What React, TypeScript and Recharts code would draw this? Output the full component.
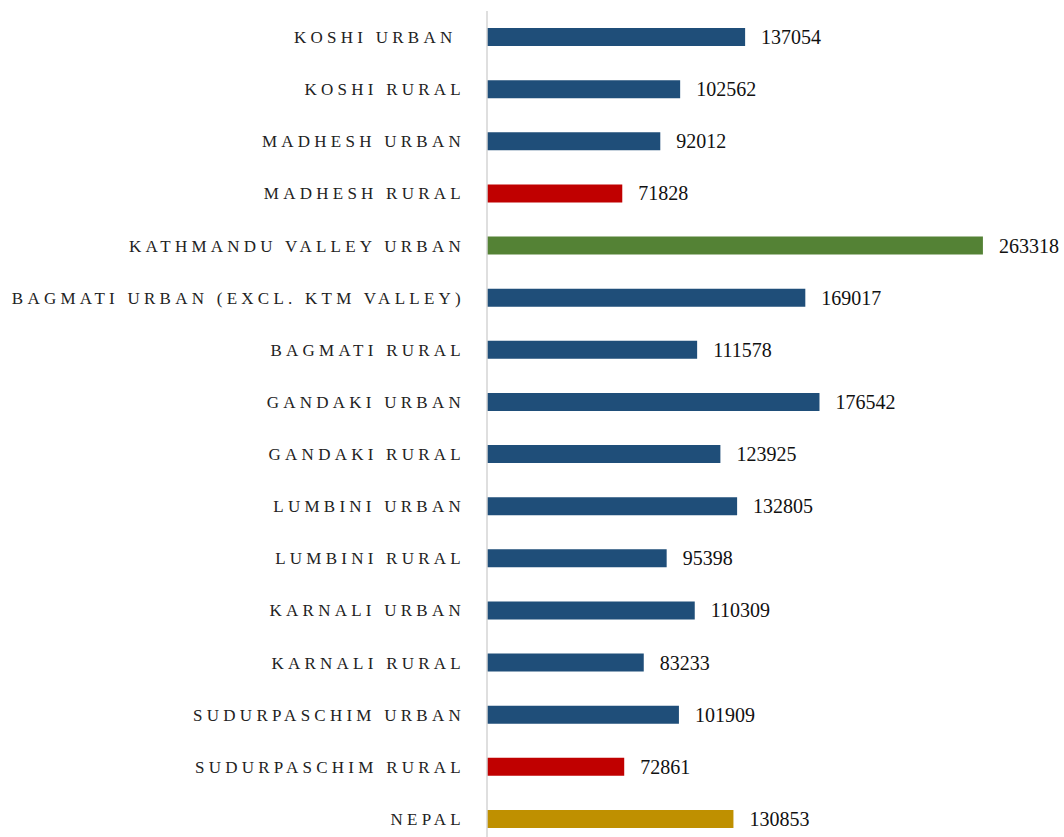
import React from 'react'
import { BarChart, Bar, XAxis, YAxis, Cell, LabelList } from 'recharts'

const categories = [
  'KOSHI URBAN ',
  'KOSHI RURAL',
  'MADHESH URBAN',
  'MADHESH RURAL',
  'KATHMANDU VALLEY URBAN',
  'BAGMATI URBAN (EXCL. KTM VALLEY)',
  'BAGMATI RURAL',
  'GANDAKI URBAN',
  'GANDAKI RURAL',
  'LUMBINI URBAN',
  'LUMBINI RURAL',
  'KARNALI URBAN',
  'KARNALI RURAL',
  'SUDURPASCHIM URBAN',
  'SUDURPASCHIM RURAL',
  'NEPAL',
]

const values = [
  137054, 102562, 92012, 71828, 263318, 169017, 111578, 176542, 123925, 132805,
  95398, 110309, 83233, 101909, 72861, 130853,
]

// which rows get a highlight colour; everything else is plain blue
const lowest = ['MADHESH RURAL', 'SUDURPASCHIM RURAL']
const highest = ['KATHMANDU VALLEY URBAN']
const national = ['NEPAL']

const BLUE = '#1F4E79'
const RED = '#C00000'
const GREEN = '#548235'
const GOLD = '#BF9000'

const data = categories.map((name, i) => ({ name, value: values[i] }))

function barColor(name: string) {
  if (lowest.includes(name)) return RED
  if (highest.includes(name)) return GREEN
  if (national.includes(name)) return GOLD
  return BLUE
}

const serif = '"Liberation Serif", "Times New Roman", serif'

function CategoryTick({ x, y, payload }: any) {
  return (
    <text
      x={x}
      y={y}
      dy="0.35em"
      textAnchor="end"
      fontFamily={serif}
      fontSize={17}
      letterSpacing={4.25}
      fill="#222"
      style={{ whiteSpace: 'pre' }}
    >
      {payload.value}
    </text>
  )
}

export default function App() {
  return (
    <div
      style={{
        position: 'absolute',
        top: 0,
        left: 0,
        width: 1064,
        height: 837,
        overflow: 'hidden',
        background: '#fff',
      }}
    >
      <BarChart
        width={1064}
        height={845}
        data={data}
        layout="vertical"
        margin={{ top: 11, right: 12, bottom: 0, left: 0 }}
      >
        <XAxis type="number" domain={[0, 300000]} hide />
        <YAxis
          type="category"
          dataKey="name"
          width={487}
          tickLine={false}
          tickSize={0}
          tickMargin={22}
          axisLine={{ stroke: '#d4d4d4', strokeWidth: 1.5 }}
          tick={<CategoryTick />}
          interval={0}
        />
        <Bar dataKey="value" barSize={18} isAnimationActive={false}>
          {data.map((d) => (
            <Cell key={d.name} fill={barColor(d.name)} />
          ))}
          <LabelList
            dataKey="value"
            position="right"
            offset={16}
            fontFamily={serif}
            fontSize={20}
            fill="#111"
          />
        </Bar>
      </BarChart>
    </div>
  )
}
